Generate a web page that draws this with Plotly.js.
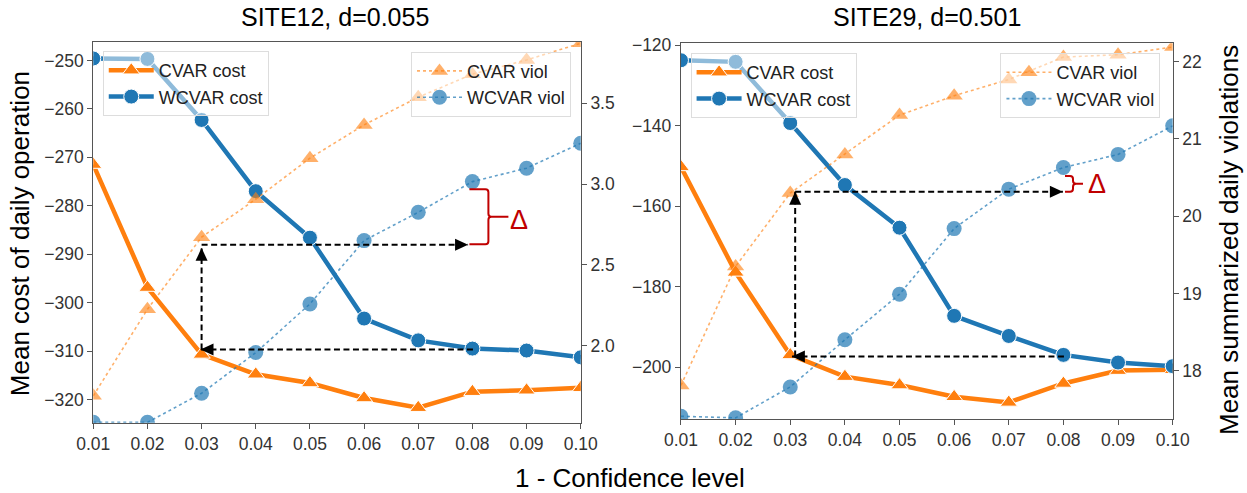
<!DOCTYPE html>
<html><head><meta charset="utf-8">
<script src="https://cdn.plot.ly/plotly-3.0.1.min.js"></script>
<style>html,body{margin:0;padding:0;background:#fff}#chart{width:1247px;height:493px}</style>
</head><body><div id="chart"></div>
<script>
// ---------- data ----------
const confLevels = [0.01, 0.02, 0.03, 0.04, 0.05, 0.06, 0.07, 0.08, 0.09, 0.10];
const confLabels = ['0.01','0.02','0.03','0.04','0.05','0.06','0.07','0.08','0.09','0.10'];

const site12CvarCost  = [-271.5, -296.9, -310.7, -314.8, -316.6, -319.7, -321.7, -318.4, -318.1, -317.6];
const site12WcvarCost = [-249.6, -249.7, -262.3, -277.0, -286.6, -303.3, -307.8, -309.5, -309.9, -311.3];
const site12CvarViol  = [1.689, 2.225, 2.671, 2.906, 3.160, 3.366, 3.537, 3.680, 3.768, 3.871];
const site12WcvarViol = [1.525, 1.525, 1.705, 1.957, 2.258, 2.650, 2.825, 3.015, 3.098, 3.252];

const site29CvarCost  = [-150.2, -176.4, -196.9, -202.3, -204.4, -207.3, -208.7, -204.0, -200.8, -200.6];
const site29WcvarCost = [-123.7, -124.1, -139.3, -154.7, -165.3, -187.2, -192.2, -196.9, -198.8, -199.7];
const site29CvarViol  = [17.81, 19.35, 20.30, 20.80, 21.31, 21.56, 21.77, 22.06, 22.09, 22.19];
const site29WcvarViol = [17.41, 17.39, 17.79, 18.40, 18.99, 19.84, 20.35, 20.63, 20.80, 21.17];

const panelTitles = ['SITE12, d=0.055', 'SITE29, d=0.501'];
const seriesNames = ['CVAR cost', 'WCVAR cost', 'CVAR viol', 'WCVAR viol'];

// ---------- styling ----------
const ORANGE = '#ff7f0e', BLUE = '#1f77b4';
const ORANGE_A = 'rgba(255,127,14,0.62)', BLUE_A = 'rgba(31,119,180,0.7)';
const SPINE = '#555555', TICKTXT = '#333333';
const FONT = 'Liberation Sans, Arial, Helvetica, sans-serif';

function costTrace(y, name, color, symbol, xa, ya, legend) {
  return {x: confLevels, y: y, name: name, xaxis: xa, yaxis: ya, legend: legend,
    mode: 'lines+markers', cliponaxis: true,
    line: {color: color, width: 4.5},
    marker: {symbol: symbol, size: 15, color: color, line: {color: 'white', width: 1}}};
}
function violTrace(y, name, color, symbol, xa, ya, legend) {
  return {x: confLevels, y: y, name: name, xaxis: xa, yaxis: ya, legend: legend,
    mode: 'lines+markers', cliponaxis: true,
    line: {color: color, width: 1.6, dash: 'dot'},
    marker: {symbol: symbol, size: 15, color: color, line: {width: 0}}};
}

const traces = [
  costTrace(site12CvarCost,  seriesNames[0], ORANGE, 'triangle-up', 'x', 'y', 'legend'),
  costTrace(site12WcvarCost, seriesNames[1], BLUE, 'circle', 'x', 'y', 'legend'),
  violTrace(site12CvarViol,  seriesNames[2], ORANGE_A, 'triangle-up', 'x', 'y2', 'legend2'),
  violTrace(site12WcvarViol, seriesNames[3], BLUE_A, 'circle', 'x', 'y2', 'legend2'),
  costTrace(site29CvarCost,  seriesNames[0], ORANGE, 'triangle-up', 'x2', 'y3', 'legend3'),
  costTrace(site29WcvarCost, seriesNames[1], BLUE, 'circle', 'x2', 'y3', 'legend3'),
  violTrace(site29CvarViol,  seriesNames[2], ORANGE_A, 'triangle-up', 'x2', 'y4', 'legend4'),
  violTrace(site29WcvarViol, seriesNames[3], BLUE_A, 'circle', 'x2', 'y4', 'legend4')
];

const axBase = {showgrid: false, zeroline: false, showline: true, linecolor: SPINE, linewidth: 1.3,
  ticks: 'outside', ticklen: 5, tickwidth: 1.2, tickcolor: SPINE,
  tickfont: {family: FONT, size: 17.5, color: TICKTXT}, automargin: false};

function legendBox(x, y, xanchor) {
  return {x: x, y: y, xanchor: xanchor, yanchor: 'top', xref: 'paper', yref: 'paper',
    bgcolor: 'rgba(255,255,255,0.5)', bordercolor: '#dddddd', borderwidth: 1,
    font: {family: FONT, size: 18, color: '#222'}, itemwidth: 45, tracegroupgap: 0};
}

// ---------- guide arrows (Δ construction) ----------
const guides = [
  {xa: 'x', yaCost: 'y', yaViol: 'y2', xLeft: 0.03, xRight: 0.0792, xStart: 0.0801,
   yViol: 2.625, yCost: -309.7, yCostTop: -288.7, xBottomTip: 0.0298,
   braceY: 2.798, braceHalf: 27.5, braceL: -3, braceV: 16, braceT: 36, deltaShift: 47, deltaY: -3},
  {xa: 'x2', yaCost: 'y3', yaViol: 'y4', xLeft: 0.0309, xRight: 0.0799, xStart: 0.0801,
   yViol: 20.317, yCost: -197.3, yCostTop: -156.4, xBottomTip: 0.0303,
   braceY: 20.419, braceHalf: 7.85, braceL: 1.6, braceV: 9.6, braceT: 19.6, deltaShift: 34, deltaY: 0}
];
const shapes = [], annotations = [];
const DASH = '6px,3.5px';
function head(xa, ya, x, y, path) {
  shapes.push({type: 'path', xref: xa, yref: ya, xsizemode: 'pixel', ysizemode: 'pixel',
    xanchor: x, yanchor: y, path: path, fillcolor: 'black', line: {width: 0}, layer: 'above'});
}
guides.forEach(g => {
  shapes.push({type: 'line', xref: g.xa, yref: g.yaViol, x0: g.xLeft, x1: g.xRight, y0: g.yViol, y1: g.yViol,
    line: {color: 'black', width: 2, dash: DASH}, layer: 'above'});
  head(g.xa, g.yaViol, g.xRight, g.yViol, 'M0,0 L-13,6 L-13,-6 Z');
  shapes.push({type: 'line', xref: g.xa, yref: g.yaCost, x0: g.xLeft, x1: g.xLeft, y0: g.yCost, y1: g.yCostTop,
    line: {color: 'black', width: 2, dash: DASH}, layer: 'above'});
  head(g.xa, g.yaCost, g.xLeft, g.yCostTop, 'M0,0 L-6,-13 L6,-13 Z');
  shapes.push({type: 'line', xref: g.xa, yref: g.yaCost, x0: g.xStart, x1: g.xBottomTip, y0: g.yCost, y1: g.yCost,
    line: {color: 'black', width: 2, dash: DASH}, layer: 'above'});
  head(g.xa, g.yaCost, g.xBottomTip, g.yCost, 'M0,0 L13,6 L13,-6 Z');
  const h = g.braceHalf, L = g.braceL, V = g.braceV, T = g.braceT, r = 3;
  const p = `M${L},${h} L${V - r},${h} Q${V},${h} ${V},${h - r} L${V},${r} Q${V},0 ${V + r},0 L${T},0 ` +
            `M${V + r},0 Q${V},0 ${V},${-r} L${V},${-h + r} Q${V},${-h} ${V - r},${-h} L${L},${-h}`;
  shapes.push({type: 'path', xref: g.xa, yref: g.yaViol, xsizemode: 'pixel', ysizemode: 'pixel',
    xanchor: 0.08, yanchor: g.braceY, path: p, line: {color: '#c00000', width: 2}, layer: 'above'});
  annotations.push({xref: g.xa, yref: g.yaViol, x: 0.08, y: g.braceY, xshift: g.deltaShift, yshift: g.deltaY,
    xanchor: 'center', yanchor: 'middle',
    text: 'Δ', showarrow: false, font: {family: FONT, size: 27, color: '#c00000'}});
});

function label(x, y, text, size, angle) {
  return {xref: 'paper', yref: 'paper', x: x, y: y, xanchor: 'center', yanchor: 'middle',
    text: text, showarrow: false, textangle: angle || 0, font: {family: FONT, size: size, color: '#000'}};
}
annotations.push(
  label(0.2685, 0.9655, panelTitles[0], 25),
  label(0.7432, 0.9655, panelTitles[1], 25),
  label(0.505, 0.030, '1 - Confidence level', 26),
  label(0.016, 0.527, 'Mean cost of daily operation', 26, -90),
  label(0.9855, 0.513, 'Mean summarized daily violations', 26, -90)
);

const layout = {
  width: 1247, height: 493, margin: {l: 0, r: 0, t: 0, b: 0},
  paper_bgcolor: 'white', plot_bgcolor: 'white', font: {family: FONT},
  xaxis: Object.assign({}, axBase, {domain: [0.0748, 0.4657], range: [0.01, 0.10], anchor: 'y',
    tickvals: confLevels, ticktext: confLabels, mirror: true}),
  yaxis: Object.assign({}, axBase, {domain: [0.1426, 0.9158], range: [-324.8, -246.1], anchor: 'x',
    tick0: -250, dtick: 10}),
  yaxis2: Object.assign({}, axBase, {overlaying: 'y', side: 'right', anchor: 'x', range: [1.523, 3.882],
    tickvals: [2.0, 2.5, 3.0, 3.5], ticktext: ['2.0', '2.5', '3.0', '3.5']}),
  xaxis2: Object.assign({}, axBase, {domain: [0.5461, 0.9404], range: [0.01, 0.10], anchor: 'y3',
    tickvals: confLevels, ticktext: confLabels, mirror: true}),
  yaxis3: Object.assign({}, axBase, {domain: [0.1495, 0.9121], range: [-212.9, -119.5], anchor: 'x2',
    tick0: -120, dtick: 20}),
  yaxis4: Object.assign({}, axBase, {overlaying: 'y3', side: 'right', anchor: 'x2', range: [17.371, 22.238],
    tick0: 18, dtick: 1}),
  legend: legendBox(0.0824, 0.8966, 'left'),
  legend2: legendBox(0.4579, 0.8951, 'right'),
  legend3: legendBox(0.5538, 0.8925, 'left'),
  legend4: legendBox(0.9306, 0.8925, 'right'),
  shapes: shapes, annotations: annotations
};

Plotly.newPlot('chart', traces, layout, {displayModeBar: false, responsive: false});
</script></body></html>
